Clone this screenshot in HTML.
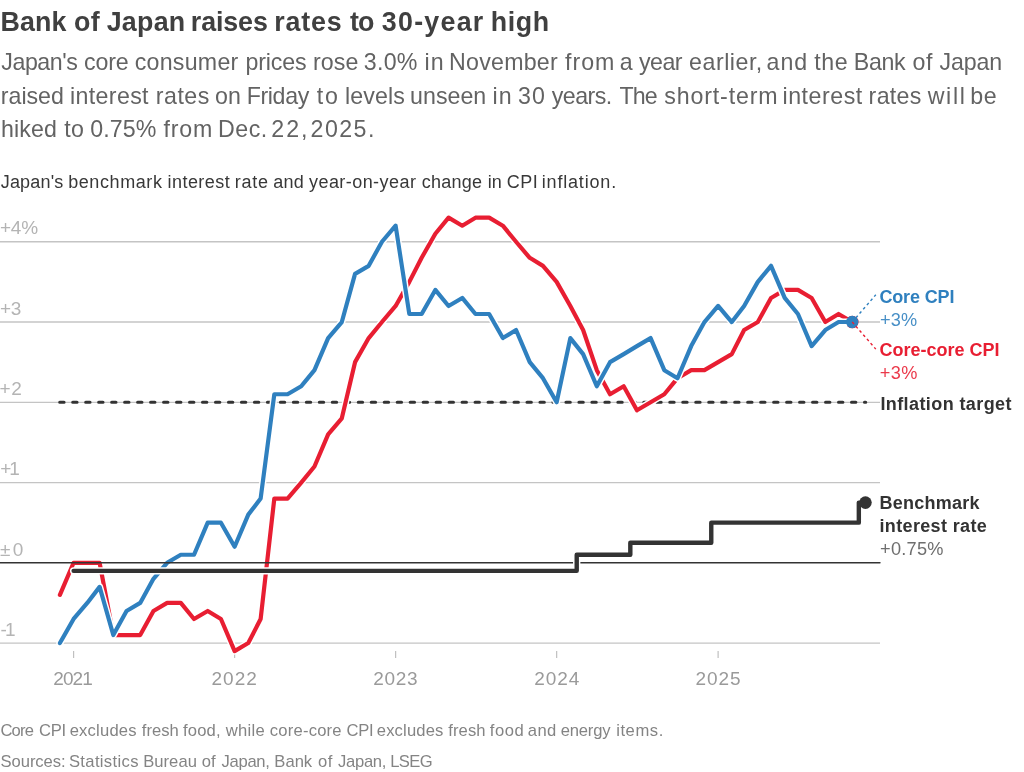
<!DOCTYPE html>
<html><head><meta charset="utf-8"><title>Bank of Japan raises rates to 30-year high</title>
<style>
html,body{margin:0;padding:0;background:#fff;}
body{width:1024px;height:772px;position:relative;overflow:hidden;font-family:"Liberation Sans",sans-serif;}
.t{will-change:transform;position:absolute;white-space:nowrap;line-height:1;}
.wl span{position:absolute;top:0;white-space:nowrap;}
.title{font-size:26.8px;font-weight:bold;color:#404040;}
.sub{font-size:23.2px;color:#636363;}
.desc{font-size:18px;color:#383838;}
.note{font-size:16.6px;color:#848484;}
svg{will-change:transform;position:absolute;left:0;top:0;}
svg text{font-family:"Liberation Sans",sans-serif;}
.ax{font-size:19px;fill:#9a9a9a;}
.ay{font-size:19px;fill:#b4b4b4;}
.lb{font-size:18px;font-weight:bold;}
.lv{font-size:18.2px;opacity:.88;}
</style></head><body>
<div class="t wl title" id="title" style="top:9.2px;left:0"><span style="left:0.45px;letter-spacing:0.150px">Bank</span><span style="left:74.10px;letter-spacing:0.200px">of</span><span style="left:106.70px;letter-spacing:0.262px">Japan</span><span style="left:190.85px;letter-spacing:-0.110px">raises</span><span style="left:274.35px;letter-spacing:0.787px">rates</span><span style="left:349.95px;letter-spacing:-0.800px">to</span><span style="left:381.80px;letter-spacing:1.267px">30-year</span><span style="left:490.75px;letter-spacing:0.583px">high</span></div>
<div class="t wl sub" id="s1" style="top:51.4px;left:0"><span style="left:1.30px;letter-spacing:-0.450px">Japan's</span><span style="left:84.10px;letter-spacing:-0.200px">core</span><span style="left:134.70px;letter-spacing:0.257px">consumer</span><span style="left:245.60px;letter-spacing:-0.180px">prices</span><span style="left:313.00px;letter-spacing:0.067px">rose</span><span style="left:363.80px;letter-spacing:0.267px">3.0%</span><span style="left:424.50px;letter-spacing:1.100px">in</span><span style="left:449.10px;letter-spacing:0.229px">November</span><span style="left:564.95px;letter-spacing:1.017px">from</span><span style="left:619.70px;letter-spacing:0.000px">a</span><span style="left:639.10px;letter-spacing:-0.583px">year</span><span style="left:689.10px;letter-spacing:0.514px">earlier,</span><span style="left:766.60px;letter-spacing:0.925px">and</span><span style="left:814.25px;letter-spacing:0.600px">the</span><span style="left:853.80px;letter-spacing:-0.317px">Bank</span><span style="left:912.40px;letter-spacing:0.600px">of</span><span style="left:939.60px;letter-spacing:-0.138px">Japan</span></div>
<div class="t wl sub" id="s2" style="top:84.6px;left:0"><span style="left:0.80px;letter-spacing:-0.010px">raised</span><span style="left:70.00px;letter-spacing:0.357px">interest</span><span style="left:155.70px;letter-spacing:0.538px">rates</span><span style="left:215.00px;letter-spacing:0.150px">on</span><span style="left:246.70px;letter-spacing:-0.370px">Friday</span><span style="left:316.85px;letter-spacing:1.750px">to</span><span style="left:345.10px;letter-spacing:0.080px">levels</span><span style="left:410.10px;letter-spacing:0.020px">unseen</span><span style="left:492.60px;letter-spacing:1.000px">in</span><span style="left:518.10px;letter-spacing:1.100px">30</span><span style="left:551.80px;letter-spacing:-0.560px">years.</span><span style="left:619.50px;letter-spacing:-0.900px">The</span><span style="left:664.35px;letter-spacing:0.844px">short-term</span><span style="left:782.50px;letter-spacing:0.529px">interest</span><span style="left:868.60px;letter-spacing:0.312px">rates</span><span style="left:927.70px;letter-spacing:1.683px">will</span><span style="left:970.30px;letter-spacing:0.450px">be</span></div>
<div class="t wl sub" id="s3" style="top:117.6px;left:0"><span style="left:1.00px;letter-spacing:0.125px">hiked</span><span style="left:64.25px;letter-spacing:0.250px">to</span><span style="left:90.30px;letter-spacing:0.050px">0.75%</span><span style="left:163.55px;letter-spacing:0.817px">from</span><span style="left:218.00px;letter-spacing:0.500px">Dec.</span><span style="left:271.25px;letter-spacing:2.000px">22,</span><span style="left:310.55px;letter-spacing:1.438px">2025.</span></div>
<div class="t wl desc" id="desc" style="top:173.4px;left:0"><span style="left:0.75px;letter-spacing:0.167px">Japan's</span><span style="left:68.15px;letter-spacing:0.594px">benchmark</span><span style="left:167.55px;letter-spacing:0.450px">interest</span><span style="left:234.75px;letter-spacing:0.733px">rate</span><span style="left:273.25px;letter-spacing:0.250px">and</span><span style="left:309.00px;letter-spacing:0.441px">year-on-year</span><span style="left:421.75px;letter-spacing:0.260px">change</span><span style="left:487.75px;letter-spacing:0.100px">in</span><span style="left:506.80px;letter-spacing:0.475px">CPI</span><span style="left:541.75px;letter-spacing:0.817px">inflation.</span></div>
<svg width="1024" height="772" viewBox="0 0 1024 772">
<line x1="0" x2="880" y1="241.76" y2="241.76" stroke="#c4c4c4" stroke-width="1.3"/><line x1="0" x2="880" y1="322.02" y2="322.02" stroke="#c4c4c4" stroke-width="1.3"/><line x1="0" x2="880" y1="402.28" y2="402.28" stroke="#c4c4c4" stroke-width="1.3"/><line x1="0" x2="880" y1="482.54" y2="482.54" stroke="#c4c4c4" stroke-width="1.3"/><line x1="0" x2="880" y1="643.06" y2="643.06" stroke="#c4c4c4" stroke-width="1.3"/>
<line x1="73.60" x2="73.60" y1="651" y2="658" stroke="#c0c0c0" stroke-width="1.2"/><line x1="234.62" x2="234.62" y1="651" y2="658" stroke="#c0c0c0" stroke-width="1.2"/><line x1="395.63" x2="395.63" y1="651" y2="658" stroke="#c0c0c0" stroke-width="1.2"/><line x1="556.65" x2="556.65" y1="651" y2="658" stroke="#c0c0c0" stroke-width="1.2"/><line x1="718.11" x2="718.11" y1="651" y2="658" stroke="#c0c0c0" stroke-width="1.2"/>
<text x="0.02" y="234.30" class="ay" id="y0" style="letter-spacing:-0.240px">+4%</text><text x="0.08" y="314.70" class="ay" id="y1" style="letter-spacing:-0.490px">+3</text><text x="-0.49" y="395.00" class="ay" id="y2" style="letter-spacing:0.693px">+2</text><text x="0.37" y="475.40" class="ay" id="y3" style="letter-spacing:-2.170px">+1</text><text x="-0.05" y="555.80" class="ay" id="y4" style="letter-spacing:2.297px">±0</text><text x="0.49" y="635.70" class="ay" id="y5" style="letter-spacing:-1.700px">-1</text>
<text x="53.23" y="685.4" class="ax" id="x2021" style="letter-spacing:-0.864px">2021</text><text x="211.40" y="685.4" class="ax" id="x2022" style="letter-spacing:1.053px">2022</text><text x="373.22" y="685.4" class="ax" id="x2023" style="letter-spacing:0.706px">2023</text><text x="534.22" y="685.4" class="ax" id="x2024" style="letter-spacing:0.909px">2024</text><text x="695.51" y="685.4" class="ax" id="x2025" style="letter-spacing:0.926px">2025</text>
<line x1="59.75" x2="865.7" y1="402.28" y2="402.28" stroke="#333" stroke-width="3.1" stroke-dasharray="4.3 8.68" stroke-linecap="round"/>
<g fill="none" stroke-linejoin="round" stroke-linecap="round">
<path d="M59.92,594.90 L73.60,562.80 L87.28,562.80 L99.63,562.80 L113.30,635.03 L126.54,635.03 L140.21,635.03 L153.45,610.96 L167.12,602.93 L180.80,602.93 L194.03,618.98 L207.71,610.96 L220.94,618.98 L234.62,651.09 L248.29,643.06 L260.64,618.98 L274.32,498.59 L287.55,498.59 L301.23,482.54 L314.46,466.49 L328.14,434.38 L341.81,418.33 L355.05,362.15 L368.72,338.07 L381.96,322.02 L395.63,305.97 L409.31,281.89 L421.66,257.81 L435.33,233.73 L448.57,217.68 L462.24,225.71 L475.48,217.68 L489.15,217.68 L502.83,225.71 L516.06,241.76 L529.74,257.81 L542.97,265.84 L556.65,281.89 L570.32,305.97 L583.12,330.05 L596.79,370.18 L610.03,394.25 L623.70,386.23 L636.94,410.31 L650.61,402.28 L664.29,394.25 L677.52,378.20 L691.20,370.18 L704.43,370.18 L718.11,362.15 L731.78,354.12 L744.13,330.05 L757.81,322.02 L771.04,297.94 L784.72,289.92 L797.95,289.92 L811.63,297.94 L825.30,322.02 L838.54,313.99 L852.21,322.02" stroke="#fff" stroke-width="7.1"/>
<path d="M59.92,594.90 L73.60,562.80 L87.28,562.80 L99.63,562.80 L113.30,635.03 L126.54,635.03 L140.21,635.03 L153.45,610.96 L167.12,602.93 L180.80,602.93 L194.03,618.98 L207.71,610.96 L220.94,618.98 L234.62,651.09 L248.29,643.06 L260.64,618.98 L274.32,498.59 L287.55,498.59 L301.23,482.54 L314.46,466.49 L328.14,434.38 L341.81,418.33 L355.05,362.15 L368.72,338.07 L381.96,322.02 L395.63,305.97 L409.31,281.89 L421.66,257.81 L435.33,233.73 L448.57,217.68 L462.24,225.71 L475.48,217.68 L489.15,217.68 L502.83,225.71 L516.06,241.76 L529.74,257.81 L542.97,265.84 L556.65,281.89 L570.32,305.97 L583.12,330.05 L596.79,370.18 L610.03,394.25 L623.70,386.23 L636.94,410.31 L650.61,402.28 L664.29,394.25 L677.52,378.20 L691.20,370.18 L704.43,370.18 L718.11,362.15 L731.78,354.12 L744.13,330.05 L757.81,322.02 L771.04,297.94 L784.72,289.92 L797.95,289.92 L811.63,297.94 L825.30,322.02 L838.54,313.99 L852.21,322.02" stroke="#e81e32" stroke-width="4.2"/>
<circle cx="852.21" cy="322.02" r="6.3" fill="#e81e32" stroke="none"/>
<path d="M59.92,643.06 L73.60,618.98 L87.28,602.93 L99.63,586.88 L113.30,635.03 L126.54,610.96 L140.21,602.93 L153.45,578.85 L167.12,562.80 L180.80,554.77 L194.03,554.77 L207.71,522.67 L220.94,522.67 L234.62,546.75 L248.29,514.64 L260.64,498.59 L274.32,394.25 L287.55,394.25 L301.23,386.23 L314.46,370.18 L328.14,338.07 L341.81,322.02 L355.05,273.86 L368.72,265.84 L381.96,241.76 L395.63,225.71 L409.31,313.99 L421.66,313.99 L435.33,289.92 L448.57,305.97 L462.24,297.94 L475.48,313.99 L489.15,313.99 L502.83,338.07 L516.06,330.05 L529.74,362.15 L542.97,378.20 L556.65,402.28 L570.32,338.07 L583.12,354.12 L596.79,386.23 L610.03,362.15 L623.70,354.12 L636.94,346.10 L650.61,338.07 L664.29,370.18 L677.52,378.20 L691.20,346.10 L704.43,322.02 L718.11,305.97 L731.78,322.02 L744.13,305.97 L757.81,281.89 L771.04,265.84 L784.72,297.94 L797.95,313.99 L811.63,346.10 L825.30,330.05 L838.54,322.02 L852.21,322.02" stroke="#fff" stroke-width="7.1"/>
<path d="M59.92,643.06 L73.60,618.98 L87.28,602.93 L99.63,586.88 L113.30,635.03 L126.54,610.96 L140.21,602.93 L153.45,578.85 L167.12,562.80 L180.80,554.77 L194.03,554.77 L207.71,522.67 L220.94,522.67 L234.62,546.75 L248.29,514.64 L260.64,498.59 L274.32,394.25 L287.55,394.25 L301.23,386.23 L314.46,370.18 L328.14,338.07 L341.81,322.02 L355.05,273.86 L368.72,265.84 L381.96,241.76 L395.63,225.71 L409.31,313.99 L421.66,313.99 L435.33,289.92 L448.57,305.97 L462.24,297.94 L475.48,313.99 L489.15,313.99 L502.83,338.07 L516.06,330.05 L529.74,362.15 L542.97,378.20 L556.65,402.28 L570.32,338.07 L583.12,354.12 L596.79,386.23 L610.03,362.15 L623.70,354.12 L636.94,346.10 L650.61,338.07 L664.29,370.18 L677.52,378.20 L691.20,346.10 L704.43,322.02 L718.11,305.97 L731.78,322.02 L744.13,305.97 L757.81,281.89 L771.04,265.84 L784.72,297.94 L797.95,313.99 L811.63,346.10 L825.30,330.05 L838.54,322.02 L852.21,322.02" stroke="#2f80bf" stroke-width="4.2"/>
<circle cx="852.21" cy="322.02" r="6.2" fill="#2f80bf" stroke="none"/>
<line x1="0" x2="880" y1="562.8" y2="562.8" stroke="#333" stroke-width="1.4"/>
<path d="M73.60,570.83 H576.72 V554.77 H630.32 V542.73 H711.27 V522.67 H858.83 V502.60 H865.45" stroke="#fff" stroke-width="7.3"/>
<path d="M73.60,570.83 H576.72 V554.77 H630.32 V542.73 H711.27 V522.67 H858.83 V502.60 H865.45" stroke="#333" stroke-width="4.4"/>
<circle cx="865.45" cy="502.60" r="6.3" fill="#333" stroke="none"/>
<line x1="852.21" y1="322.02" x2="875.8" y2="294.8" stroke="#2f80bf" stroke-width="1.4" stroke-dasharray="2.8 2.8" stroke-linecap="butt"/>
<line x1="852.21" y1="322.02" x2="875.8" y2="349.1" stroke="#e81e32" stroke-width="1.4" stroke-dasharray="2.8 2.8" stroke-linecap="butt"/>
</g>
<text x="879.45" y="302.8" class="lb" fill="#2f80bf" id="l1" style="letter-spacing:-0.154px">Core CPI</text>
<text x="879.97" y="326.2" class="lv" fill="#2f80bf" id="l2" style="letter-spacing:0.189px">+3%</text>
<text x="879.61" y="356.2" class="lb" fill="#e81e32" id="l3" style="letter-spacing:-0.014px">Core-core CPI</text>
<text x="879.87" y="378.9" class="lv" fill="#e81e32" id="l4" style="letter-spacing:0.272px">+3%</text>
<text x="880.38" y="409.9" class="lb" fill="#333" id="l5" style="letter-spacing:0.410px">Inflation target</text>
<text x="879.53" y="509.0" class="lb" fill="#333" id="l6" style="letter-spacing:0.244px">Benchmark</text>
<text x="879.45" y="532.2" class="lb" fill="#333" id="l7" style="letter-spacing:0.360px">interest rate</text>
<text x="880.06" y="555.3" class="lv" fill="#5a5a5a" id="l8" style="letter-spacing:0.253px">+0.75%</text>
</svg>
<div class="t wl note" id="n1" style="top:722.7px;left:0"><span style="left:0.45px;letter-spacing:-0.833px">Core</span><span style="left:39.05px;letter-spacing:-0.300px">CPI</span><span style="left:69.65px;letter-spacing:0.207px">excludes</span><span style="left:141.85px;letter-spacing:0.000px">fresh</span><span style="left:183.05px;letter-spacing:0.137px">food,</span><span style="left:225.80px;letter-spacing:0.300px">while</span><span style="left:269.85px;letter-spacing:0.206px">core-core</span><span style="left:346.55px;letter-spacing:-0.300px">CPI</span><span style="left:376.75px;letter-spacing:0.164px">excludes</span><span style="left:448.25px;letter-spacing:0.100px">fresh</span><span style="left:489.75px;letter-spacing:0.533px">food</span><span style="left:527.75px;letter-spacing:0.425px">and</span><span style="left:560.65px;letter-spacing:-0.180px">energy</span><span style="left:616.20px;letter-spacing:0.570px">items.</span></div>
<div class="t wl note" id="n2" style="top:754.1px;left:0"><span style="left:0.55px;letter-spacing:-0.064px">Sources:</span><span style="left:68.95px;letter-spacing:0.344px">Statistics</span><span style="left:143.15px;letter-spacing:0.050px">Bureau</span><span style="left:201.75px;letter-spacing:0.050px">of</span><span style="left:221.55px;letter-spacing:-0.300px">Japan,</span><span style="left:274.35px;letter-spacing:0.000px">Bank</span><span style="left:317.95px;letter-spacing:0.550px">of</span><span style="left:338.05px;letter-spacing:-0.300px">Japan,</span><span style="left:390.15px;letter-spacing:-0.583px">LSEG</span></div>
</body></html>
